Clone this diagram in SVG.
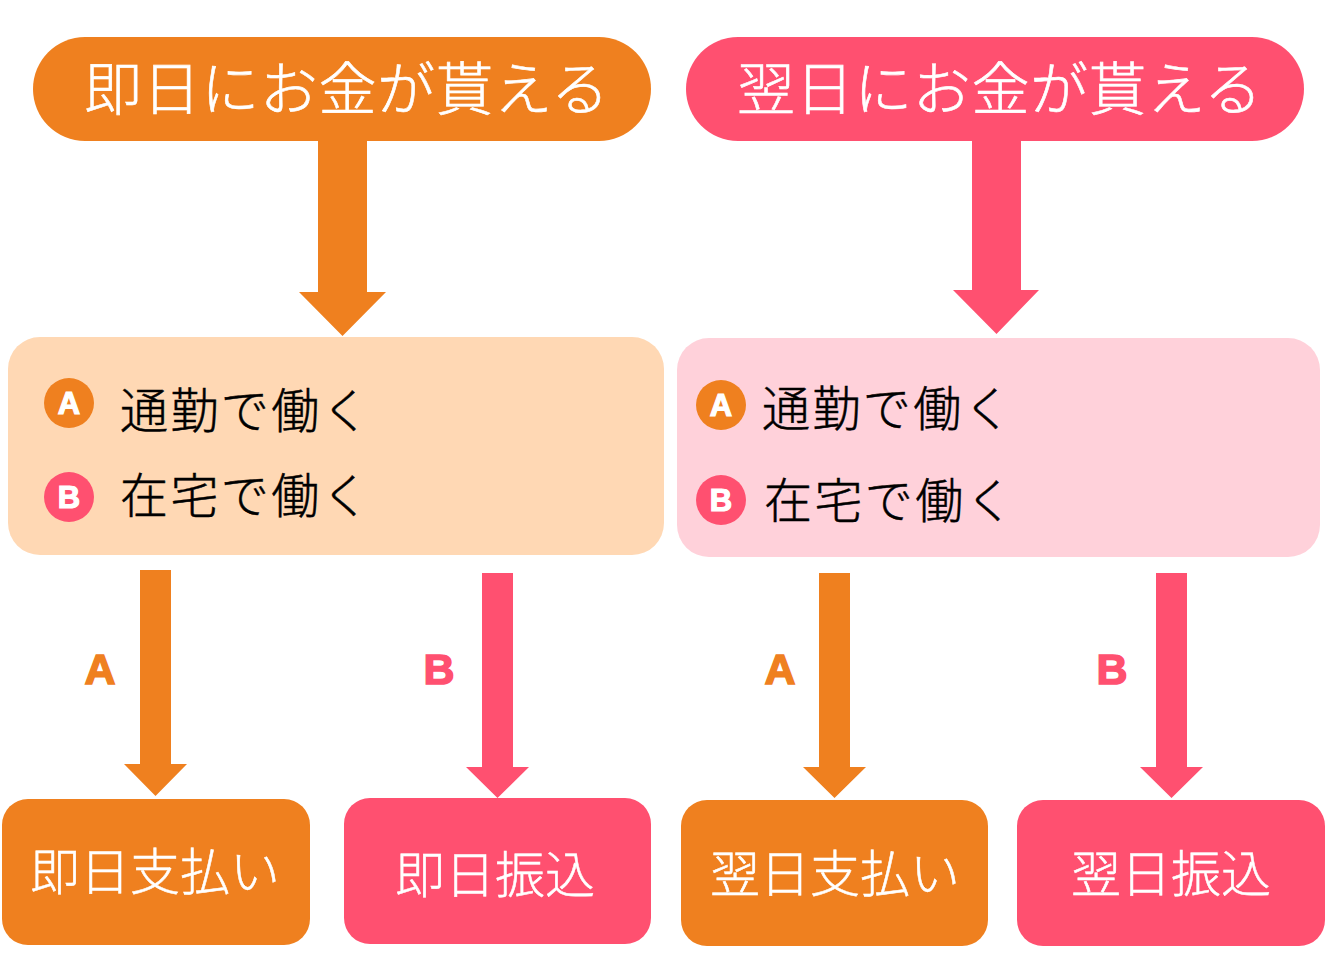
<svg xmlns="http://www.w3.org/2000/svg" width="1326" height="968" viewBox="0 0 1326 968">
<style>
text{font-family:"Noto Sans CJK JP","Noto Sans",sans-serif}
.o{fill:#EF801F}.p{fill:#FF5070}
.lo{fill:#FFD8B4}.lp{fill:#FFD1DA}
.t{fill:#fff;font-size:58px;font-weight:300;letter-spacing:.6px;stroke:#fff;stroke-width:.6}
.m{fill:#000;font-size:48px;font-weight:300;letter-spacing:2.4px;stroke:#000;stroke-width:.5}
.b{fill:#fff;font-size:50px;font-weight:300;text-anchor:middle;stroke:#fff;stroke-width:.5}
.bd{fill:#fff;font-family:"Liberation Sans",sans-serif;font-size:31px;font-weight:700;text-anchor:middle;stroke:#fff;stroke-width:1.2}
.l{font-family:"Liberation Sans",sans-serif;font-size:43px;font-weight:700;text-anchor:middle;stroke-width:1.5}
</style>
<rect width="1326" height="968" fill="#fff"/>
<g id="connectors">
<path class="o" d="M318 140H367V292H386L342.500 336L299 292H318Z"/>
<path class="p" d="M972 140H1021V290H1039L996.500 334L953 290H972Z"/>
<path class="o" d="M140 570H171V764H187L155.500 796L124 764H140Z"/>
<path class="p" d="M482 573H513V767H529L497.500 798L466 767H482Z"/>
<path class="o" d="M819 573H850V767H866L834.500 798L803 767H819Z"/>
<path class="p" d="M1156 573H1187V767H1203L1171.500 798L1140 767H1156Z"/>
<text class="l o" stroke="#EF801F" x="100" y="684">A</text>
<text class="l p" stroke="#FF5070" x="439" y="684">B</text>
<text class="l o" stroke="#EF801F" x="780" y="684">A</text>
<text class="l p" stroke="#FF5070" x="1112" y="684">B</text>
</g>
<g id="top-left"><rect class="o" x="33" y="37" width="618" height="104" rx="52"/><text class="t" x="84" y="110">即日にお金が貰える</text></g>
<g id="top-right"><rect class="p" x="686" y="37" width="618" height="104" rx="52"/><text class="t" x="737" y="110">翌日にお金が貰える</text></g>
<g id="mid-left"><rect class="lo" x="8" y="337" width="656" height="218" rx="32"/>
<circle class="o" cx="69" cy="403" r="25"/><text class="bd" x="69" y="414">A</text>
<circle class="p" cx="69" cy="497" r="25"/><text class="bd" x="69" y="508">B</text>
<text class="m" x="120" y="428">通勤で働く</text><text class="m" x="120" y="513">在宅で働く</text></g>
<g id="mid-right"><rect class="lp" x="677" y="338" width="643" height="219" rx="32"/>
<circle class="o" cx="721" cy="405" r="25"/><text class="bd" x="721" y="416">A</text>
<circle class="p" cx="721" cy="500" r="25"/><text class="bd" x="721" y="511">B</text>
<text class="m" x="762" y="426">通勤で働く</text><text class="m" x="764" y="518">在宅で働く</text></g>
<g id="b1"><rect class="o" x="2" y="799" width="308" height="146" rx="26"/><text class="b" x="155" y="890">即日支払い</text></g>
<g id="b2"><rect class="p" x="344" y="798" width="307" height="146" rx="26"/><text class="b" x="495" y="893">即日振込</text></g>
<g id="b3"><rect class="o" x="681" y="800" width="307" height="146" rx="26"/><text class="b" x="835" y="892">翌日支払い</text></g>
<g id="b4"><rect class="p" x="1017" y="800" width="308" height="146" rx="26"/><text class="b" x="1171" y="892">翌日振込</text></g>
</svg>
